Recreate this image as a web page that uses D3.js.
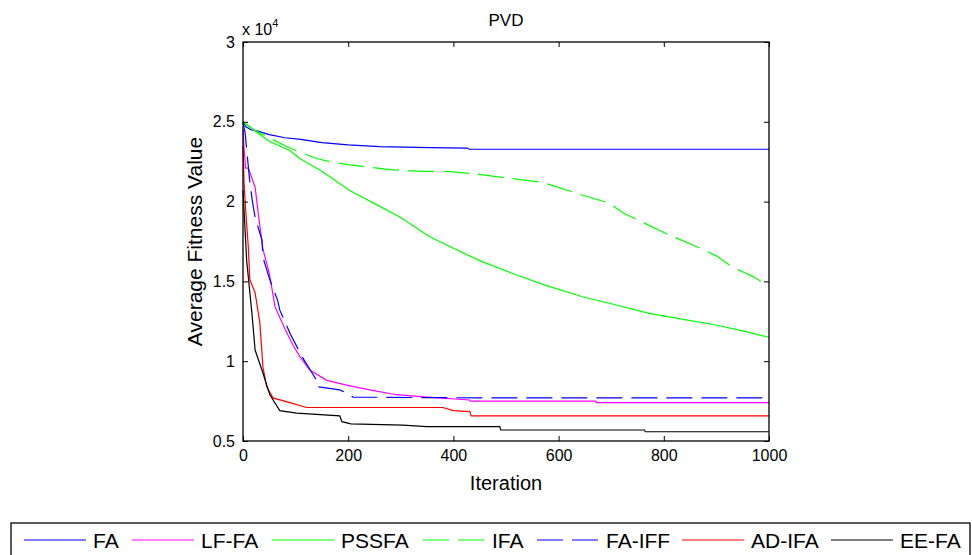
<!DOCTYPE html>
<html>
<head>
<meta charset="utf-8">
<script src="https://cdn.jsdelivr.net/npm/d3@7"></script>
<style>
  body { margin: 0; background: #fff; }
  svg { font-family: "Liberation Sans", Arial, sans-serif; }
</style>
</head>
<body>
<svg id="chart" width="972" height="555"></svg>
<script>
// values in units of 1e4, [iteration, average fitness]
var faData = [[0,2.5],[5,2.47],[15,2.45],[30,2.44],[50,2.42],[80,2.40],[110,2.39],[150,2.37],[200,2.355],[260,2.345],[355,2.338],[427,2.335],[430,2.328],[1000,2.328]];
var lffaData = [[0,2.45],[2,2.33],[5,2.21],[10,2.21],[23,2.09],[30,1.90],[38,1.70],[50,1.55],[61,1.34],[80,1.20],[95,1.10],[108,1.03],[127,0.945],[159,0.88],[197,0.85],[241,0.82],[292,0.79],[350,0.775],[431,0.757],[432,0.75],[671,0.75],[672,0.74],[1000,0.74]];
var pssfaData = [[0,2.5],[20,2.45],[51,2.375],[89,2.32],[108,2.27],[150,2.19],[203,2.07],[260,1.97],[300,1.90],[355,1.78],[394,1.717],[450,1.63],[520,1.54],[580,1.47],[645,1.404],[700,1.36],[772,1.30],[840,1.26],[899,1.227],[950,1.19],[1000,1.15]];
var ifaData = [[0,2.5],[20,2.45],[50,2.40],[80,2.35],[108,2.31],[140,2.27],[165,2.25],[203,2.23],[279,2.20],[342,2.19],[394,2.188],[450,2.17],[507,2.146],[570,2.12],[646,2.04],[697,1.99],[722,1.93],[760,1.87],[804,1.80],[861,1.72],[900,1.66],[930,1.59],[970,1.53],[1000,1.47]];
var faiffData = [[0,2.5],[4,2.43],[13,2.12],[18,2.0],[23,1.90],[36,1.76],[38,1.65],[51,1.51],[66,1.38],[70,1.32],[90,1.17],[112,1.03],[140,0.88],[141,0.84],[184,0.82],[197,0.80],[209,0.775],[450,0.77],[1000,0.77]];
var adifaData = [[0,2.35],[2,2.12],[5,1.95],[10,1.72],[13,1.51],[23,1.43],[32,1.24],[38,0.96],[45,0.84],[57,0.77],[89,0.74],[121,0.71],[380,0.71],[400,0.69],[431,0.684],[434,0.657],[1000,0.657]];
var eefaData = [[0,2.07],[7,1.63],[17,1.30],[23,1.07],[36,0.945],[51,0.79],[70,0.69],[102,0.675],[184,0.657],[188,0.621],[205,0.607],[304,0.60],[349,0.59],[488,0.59],[490,0.569],[763,0.569],[765,0.558],[1000,0.558]];

var seriesNames = ["FA", "LF-FA", "PSSFA", "IFA", "FA-IFF", "AD-IFA", "EE-FA"];
var seriesData = [faData, lffaData, pssfaData, ifaData, faiffData, adifaData, eefaData];
var seriesColors = ["#0000ff", "#ff00ff", "#00ff00", "#00ff00", "#0000ff", "#ff0000", "#000000"];
var seriesDashed = [false, false, false, true, true, false, false];

var xTicks = [0, 200, 400, 600, 800, 1000];
var yTicks = [0.5, 1, 1.5, 2, 2.5, 3];

var svg = d3.select("#chart");
var box = { left: 243, right: 769, top: 42, bottom: 441 };

var xScale = d3.scaleLinear().domain([0, 1000]).range([box.left, box.right]);
var yScale = d3.scaleLinear().domain([0.5, 3]).range([box.bottom, box.top]);

var dash = "26,9";

// plot lines
var line = d3.line()
             .x(d => xScale(d[0]))
             .y(d => yScale(d[1]));

svg.append("g")
    .selectAll("path")
    .data(seriesData)
    .enter()
    .append("path")
      .attr("d", line)
      .attr("fill", "none")
      .attr("stroke", (d, i) => seriesColors[i])
      .attr("stroke-width", 1.2)
      .attr("stroke-dasharray", (d, i) => seriesDashed[i] ? dash : null);

// axes, matlab style (ticks inside, box)
function styleAxis(g) {
  g.select(".domain").remove();
  g.selectAll(".tick line").attr("stroke", "#000");
  g.selectAll(".tick text")
    .attr("fill", "#000")
    .style("font-size", "16px")
    .style("font-family", "'Liberation Sans', Arial, sans-serif");
}

svg.append("g")
    .attr("transform", "translate(0," + box.bottom + ")")
    .call(d3.axisBottom(xScale).tickValues(xTicks).tickSize(-5).tickPadding(9).tickFormat(d3.format("d")))
    .call(styleAxis);

svg.append("g")
    .attr("transform", "translate(0," + box.top + ")")
    .call(d3.axisTop(xScale).tickValues(xTicks).tickSize(-5).tickFormat(""))
    .call(styleAxis);

svg.append("g")
    .attr("transform", "translate(" + box.left + ",0)")
    .call(d3.axisLeft(yScale).tickValues(yTicks).tickSize(-5).tickPadding(8).tickFormat(d3.format("")))
    .call(styleAxis);

svg.append("g")
    .attr("transform", "translate(" + box.right + ",0)")
    .call(d3.axisRight(yScale).tickValues(yTicks).tickSize(-5).tickFormat(""))
    .call(styleAxis);

svg.append("rect")
    .attr("x", box.left)
    .attr("y", box.top)
    .attr("width", box.right - box.left)
    .attr("height", box.bottom - box.top)
    .attr("fill", "none")
    .attr("stroke", "#000")
    .attr("stroke-width", 1.3);

// exponent label
var expo = svg.append("text")
    .attr("x", box.left - 1)
    .attr("y", 35)
    .style("font-size", "16px");
expo.append("tspan").text("x 10");
expo.append("tspan")
    .attr("dy", -8)
    .style("font-size", "11px")
    .text("4");

// titles
svg.append("text")
    .attr("x", (box.left + box.right) / 2)
    .attr("y", 26)
    .style("text-anchor", "middle")
    .style("font-size", "17px")
    .text("PVD");

svg.append("text")
    .attr("x", (box.left + box.right) / 2)
    .attr("y", 490)
    .style("text-anchor", "middle")
    .style("font-size", "20px")
    .text("Iteration");

svg.append("text")
    .attr("transform", "rotate(-90)")
    .attr("x", -(box.top + box.bottom) / 2)
    .attr("y", 202)
    .style("text-anchor", "middle")
    .style("font-size", "21px")
    .text("Average Fitness Value");

// legend
var legend = svg.append("g");
legend.append("rect")
    .attr("x", 11)
    .attr("y", 523)
    .attr("width", 959)
    .attr("height", 50)
    .attr("fill", "#fff")
    .attr("stroke", "#000")
    .attr("stroke-width", 1.3);

var legendX = [24, 132, 272, 423, 537, 682, 831];
seriesNames.forEach((name, i) => {
  var lx = legendX[i];
  legend.append("line")
      .attr("x1", lx)
      .attr("x2", lx + 62)
      .attr("y1", 540)
      .attr("y2", 540)
      .attr("stroke", seriesColors[i])
      .attr("stroke-width", 1.2)
      .attr("stroke-dasharray", seriesDashed[i] ? dash : null);
  legend.append("text")
      .attr("x", lx + 69)
      .attr("y", 548)
      .style("font-size", "21px")
      .text(name);
});
</script>
</body>
</html>
